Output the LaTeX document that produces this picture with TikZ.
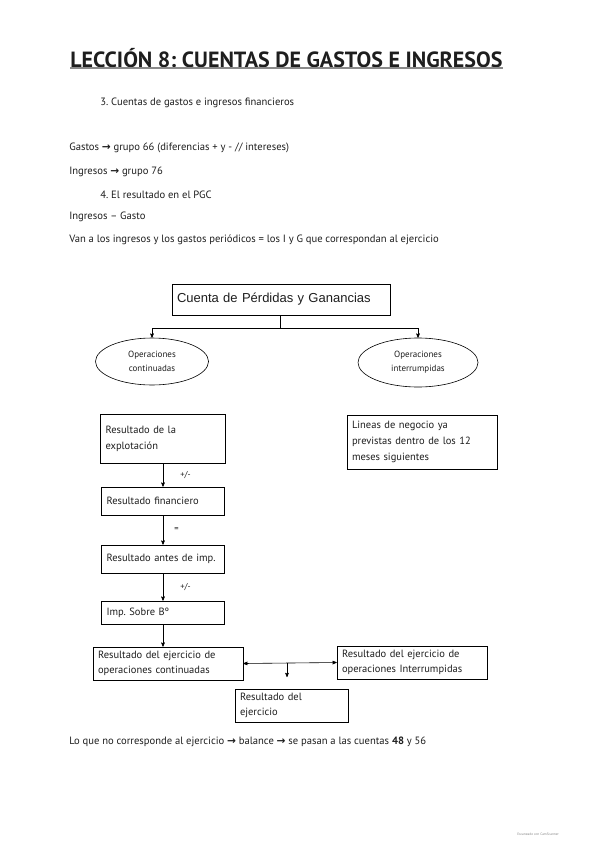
\documentclass[tikz,border=0pt]{standalone}
\usepackage{fontspec}
\setmainfont{PT Sans}
\newfontfamily\symfont{DejaVu Sans}
\newfontfamily\boxfont{Liberation Sans}
\usepackage{xcolor}
\definecolor{tinta}{HTML}{1E1E1E}
\definecolor{gris}{HTML}{8A8A8A}
\usetikzlibrary{arrows,shapes.geometric}
\newcommand{\flecha}{{\symfont\bfseries\char"2192}}
\frenchspacing

\begin{document}
\begin{tikzpicture}[x=1pt,y=-1pt,->,>=stealth',line width=0.6pt]
    \tikzstyle{txt}=[anchor=west,inner sep=0pt,text=tinta,font=\fontsize{10.6}{12}\selectfont]
    \tikzstyle{caja}=[draw,rectangle,align=left,inner xsep=5pt,inner ysep=2pt,text=tinta,font=\fontsize{10.5}{16}\selectfont]
    \tikzstyle{ovalo}=[draw,ellipse,align=center,inner sep=0pt,text=tinta,font=\fontsize{9}{14}\selectfont]
    \tikzstyle{etiq}=[right,inner sep=0pt,text=tinta,font=\fontsize{8.5}{9}\selectfont]

    \useasboundingbox[fill=white] (0,0) rectangle (599,848);

    % encabezado
    \node[txt,font=\fontsize{22}{26}\selectfont\bfseries] (titulo) at (70,58) {LECCIÓN 8: CUENTAS DE GASTOS E INGRESOS};
    \draw[-,gris,line width=1.2pt] (titulo.south west) -- (titulo.south east);

    \node[txt] (t3)   at (100,103) {3. Cuentas de gastos e ingresos financieros};
    \node[txt] (gas)  at (69,148)  {Gastos \flecha\ grupo 66 (diferencias + y - // intereses)};
    \node[txt] (ing)  at (69,172)  {Ingresos \flecha\ grupo 76};
    \node[txt] (t4)   at (100,195) {4. El resultado en el PGC};
    \node[txt] (ig)   at (69,217)  {Ingresos -- Gasto};
    \node[txt] (van)  at (69,240)  {Van a los ingresos y los gastos periódicos = los I y G que correspondan al ejercicio};

    % esquema
    \node[caja,minimum width=218pt,minimum height=31pt,text width=208pt,font=\boxfont\fontsize{13}{15}\selectfont] (cpg) at (281,299.5) {Cuenta de Pérdidas y Ganancias};
    \node[ovalo,minimum width=113pt,minimum height=47pt] (opc) at (152,361.5) {Operaciones\\continuadas};
    \node[ovalo,minimum width=120pt,minimum height=49pt] (opi) at (418,362.5) {Operaciones\\interrumpidas};

    \node[caja,minimum width=125pt,minimum height=49pt,text width=115pt] (expl) at (163,438.5) {Resultado de la\\explotación};
    \node[caja,minimum width=123pt,minimum height=28pt,text width=113pt] (fin)  at (163,501)   {Resultado financiero};
    \node[caja,minimum width=123pt,minimum height=28pt,text width=113pt] (ant)  at (163,559)   {Resultado antes de imp.};
    \node[caja,minimum width=123pt,minimum height=23pt,text width=113pt] (imp)  at (163,612.5) {Imp. Sobre Bº};
    \node[caja,minimum width=150pt,minimum height=33pt,text width=140pt,font=\fontsize{10.5}{15}\selectfont] (rcont) at (168,663.5) {Resultado del ejercicio de\\operaciones continuadas};
    \node[caja,minimum width=150pt,minimum height=33pt,text width=140pt,font=\fontsize{10.5}{15}\selectfont] (rint)  at (412,662.5) {Resultado del ejercicio de\\operaciones Interrumpidas};
    \node[caja,minimum width=113pt,minimum height=33pt,text width=103pt,font=\fontsize{10.5}{15}\selectfont] (rej)   at (291.5,705.5) {Resultado del\\ejercicio};
    \node[caja,minimum width=150pt,minimum height=54pt,text width=140pt] (lin) at (422,442) {Lineas de negocio ya\\previstas dentro de los 12\\meses siguientes};

    \coordinate (split)  at (280,328);
    \coordinate (medio)  at (287,663);
    \coordinate (bajada) at (287,677);

    \draw[-] (cpg.south -| split) -- (split);
    \draw (split) -| (opc.north);
    \draw (split) -| (opi.north);

    \path (expl) edge node[etiq,xshift=17pt] {+/-} (fin)
          (fin)  edge node[etiq,xshift=11pt] {=}   (ant)
          (ant)  edge node[etiq,xshift=17pt] {+/-} (imp);
    \draw (imp.south) -- (imp.south |- rcont.north);
    \draw[<->] (rcont.east) -- (rint.west);
    \draw (medio) -- (bajada);

    % pie
    \node[txt] (pie) at (69,742) {Lo que no corresponde al ejercicio \flecha\ balance \flecha\ se pasan a las cuentas \textbf{48} y 56};
    \node[txt,text=gris,font=\fontsize{3.5}{4}\selectfont] (cs) at (517,834) {Escaneado con CamScanner};
\end{tikzpicture}
\end{document}
